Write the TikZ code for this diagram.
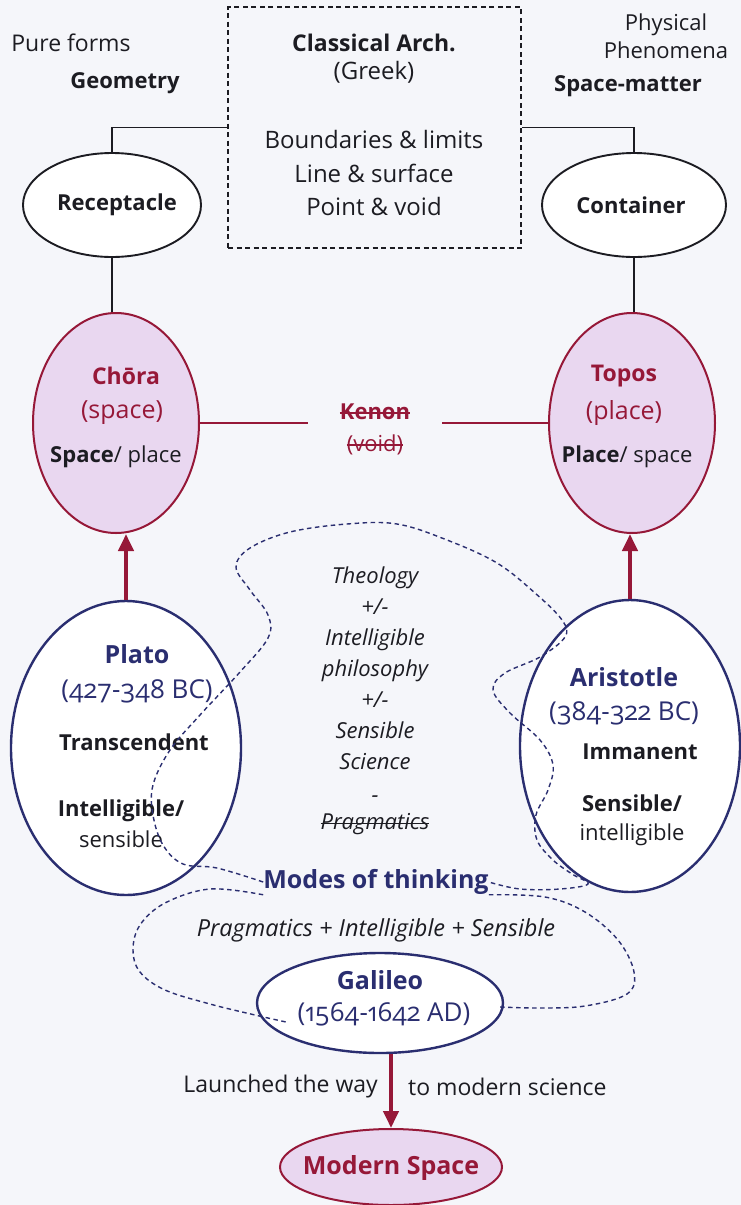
\documentclass[tikz,border=0pt]{standalone}
\usepackage{fontspec}
\setmainfont{Open Sans}[Numbers=OldStyle]
\usetikzlibrary{shapes.geometric,arrows.meta}

\definecolor{navy}{RGB}{42,46,112}
\definecolor{crim}{RGB}{150,24,56}
\definecolor{lav}{RGB}{233,215,240}
\definecolor{ink}{RGB}{28,28,34}
\definecolor{paper}{RGB}{245,246,250}

\newcommand{\fs}[1]{\fontsize{#1}{#1}\selectfont}
% struck-through word
\newcommand{\strk}[1]{\begingroup\setbox0=\hbox{#1}\rlap{\rule[0.24em]{\wd0}{1.4pt}}\box0\endgroup}

\tikzset{
  lbl/.style={inner sep=0pt, text=ink, font=\fs{23}},
  blbl/.style={inner sep=0pt, text=ink, font=\fs{22}\bfseries},
  oval/.style={ellipse, inner sep=0pt},
  plainoval/.style={oval, draw=ink, line width=1.9pt, fill=white},
  redoval/.style={oval, draw=crim, line width=2pt, fill=lav},
  blueoval/.style={oval, draw=navy, line width=2.4pt, fill=white},
  thinline/.style={draw=ink, line width=1.5pt},
  redline/.style={draw=crim, line width=1.8pt},
  redarrow/.style={draw=crim, line width=4pt, -{Triangle[length=17pt,width=15pt]}},
  dashloop/.style={draw=navy, line width=1.4pt, dash pattern=on 4.5pt off 3.5pt},
}

\begin{document}
\begin{tikzpicture}[x=1pt,y=-1pt]
  \fill[paper] (0,0) rectangle (741,1205);
  \useasboundingbox (0,0) rectangle (741,1205);

  % classical architecture frame
  \node[draw=ink, line width=1.4pt, dash pattern=on 5pt off 3.5pt,
        minimum width=293pt, minimum height=241pt, inner sep=0pt] (arch) at (374.5,127.5) {};
  \node[blbl, font=\fs{23}\bfseries] (archtitle) at (374,43) {Classical Arch.};
  \node[lbl, font=\fs{24}] (greek) at (374,72) {(Greek)};
  \node[lbl, font=\fontsize{24}{33.5}\selectfont, align=center] (archlist) at (374,173)
       {Boundaries \& limits\\Line \& surface\\Point \& void};

  % left column headings
  \node[lbl] (pure) at (71,43) {Pure forms};
  \node[blbl] (geometry) at (125,83) {Geometry};
  % right column headings
  \node[lbl, align=center, font=\fontsize{22}{28}\selectfont] (physical) at (666,36) {Physical\\Phenomena};
  \node[blbl] (spacematter) at (628,86) {Space-matter};

  % receptacle / container
  \node[plainoval, minimum width=178pt, minimum height=104pt] (rec) at (112,205) {};
  \node[blbl] (rectxt) at (117,205) {Receptacle};
  \node[plainoval, minimum width=184pt, minimum height=104pt] (con) at (634,205) {};
  \node[blbl] (context) at (631,205) {Container};

  \draw[thinline] (rec.north) |- (arch.west);
  \draw[thinline] (con.north) |- (arch.east);

  % chora / topos
  \node[redoval, minimum width=166pt, minimum height=220pt] (chora) at (116,423) {};
  \node[redoval, minimum width=166pt, minimum height=220pt] (topos) at (632,423) {};
  \draw[thinline] (rec.south) -- (rec.south |- chora.north);
  \draw[thinline] (con.south) -- (con.south |- topos.north);

  \node[blbl, text=crim, font=\fs{23}\bfseries] (choraname) at (126,376) {Chōra};
  \node[lbl, text=crim, font=\fs{25}] (choraspace) at (122,413) {(space)};
  \node[lbl, font=\fs{22}] (choraplace) at (116,457) {\textbf{Space}/ place};

  \node[blbl, text=crim, font=\fs{23}\bfseries] (toposname) at (624,376) {Topos};
  \node[lbl, text=crim, font=\fs{25}] (toposplace) at (624,413) {(place)};
  \node[lbl, font=\fs{22}] (topospace) at (627,457) {\textbf{Place}/ space};

  % kenon between them
  \node[inner sep=0pt, minimum width=134pt, align=center, text=crim,
        font=\fontsize{22}{32}\selectfont] (kenon) at (375,429)
       {\strk{\textbf{Kenon}}\\\strk{(void)}};
  \draw[redline] (chora.east) -- (chora.east -| kenon.west);
  \draw[redline] (topos.west) -- (topos.west -| kenon.east);

  % plato / aristotle
  \node[blueoval, minimum width=230pt, minimum height=294pt] (plato) at (126,748) {};
  \node[blueoval, minimum width=220pt, minimum height=292pt] (aristotle) at (630,746) {};
  \draw[redarrow] (plato.north) -- (plato.north |- chora.south);
  \draw[redarrow] (aristotle.north) -- (aristotle.north |- topos.south);

  \node[blbl, text=navy, font=\fs{25}\bfseries] (platoname) at (137,654) {Plato};
  \node[lbl, text=navy, font=\fs{26}] (platodate) at (137,691) {(427-348 BC)};
  \node[blbl] (transc) at (134,742) {Transcendent};
  \node[lbl, align=center, font=\fontsize{22}{31}\selectfont] (platointel) at (121,824)
       {\textbf{Intelligible/}\\sensible};

  \node[blbl, text=navy, font=\fs{25}\bfseries] (aristname) at (624,677) {Aristotle};
  \node[lbl, text=navy, font=\fs{26}] (aristdate) at (624,713) {(384-322 BC)};
  \node[blbl] (immanent) at (640,752) {Immanent};
  \node[lbl, align=center, font=\fontsize{22}{29}\selectfont] (aristsens) at (632,820)
       {\textbf{Sensible/}\\intelligible};

  % central column of disciplines
  \node[lbl, align=center, font=\fontsize{22}{31}\selectfont\itshape] (disc) at (375,701)
       {Theology\\+/-\\Intelligible\\philosophy\\+/-\\Sensible\\Science\\[2pt]-\\[-4pt]\strk{Pragmatics}};

  % modes of thinking
  \node[blbl, text=navy, font=\fs{25}\bfseries] (modes) at (376,882) {Modes of thinking};
  \node[lbl, font=\fs{23.5}\itshape] (pis) at (376,930) {Pragmatics + Intelligible + Sensible};

  % galileo
  \node[blueoval, minimum width=246pt, minimum height=100pt] (galileo) at (380,1003) {};
  \node[blbl, text=navy, font=\fs{25}\bfseries] (galname) at (380,980) {Galileo};
  \node[lbl, text=navy, font=\fs{26}] (galdate) at (384,1014) {(1564-1642 AD)};

  % modern space
  \node[redoval, minimum width=222pt, minimum height=76pt] (modern) at (391,1167) {};
  \node[blbl, text=crim, font=\fs{25}\bfseries] (modtxt) at (391,1168) {Modern Space};
  \draw[redarrow] (modern.north |- galileo.south) -- (modern.north);
  \node[lbl, anchor=east] (launched) at (378,1087) {Launched the way};
  \node[lbl, anchor=west] (tomodern) at (408,1087) {to modern science};

  % dashed regions of the modes of thinking
  \draw[dashloop] plot[smooth, tension=0.6] coordinates {
    (modes.west) (217,868) (183,864) (163,845) (153,815) (153,785) (170,750)
    (200,715) (240,672) (268,638) (268,615) (250,590) (236,567) (250,548)
    (290,532) (347,524) (397,524) (447,540) (497,563) (535,593) (562,620)
    (565,637) (540,657) (505,673) (493,690) (510,713) (540,740) (553,765)
    (548,790) (536,815) (537,840) (553,860) (572,874) (588,884) (560,889)
    (520,889) (modes.east)};
  \draw[dashloop] plot[smooth, tension=0.6] coordinates {
    (modes.south west) (210,889) (165,903) (140,925) (133,950) (140,972)
    (165,990) (210,1004) (255,1015) (286,1022)};
  \draw[dashloop] plot[smooth, tension=0.6] coordinates {
    (modes.south east) (545,897) (585,912) (618,940) (634,972) (627,994)
    (585,1006) (540,1008) (500,1007)};
\end{tikzpicture}
\end{document}
